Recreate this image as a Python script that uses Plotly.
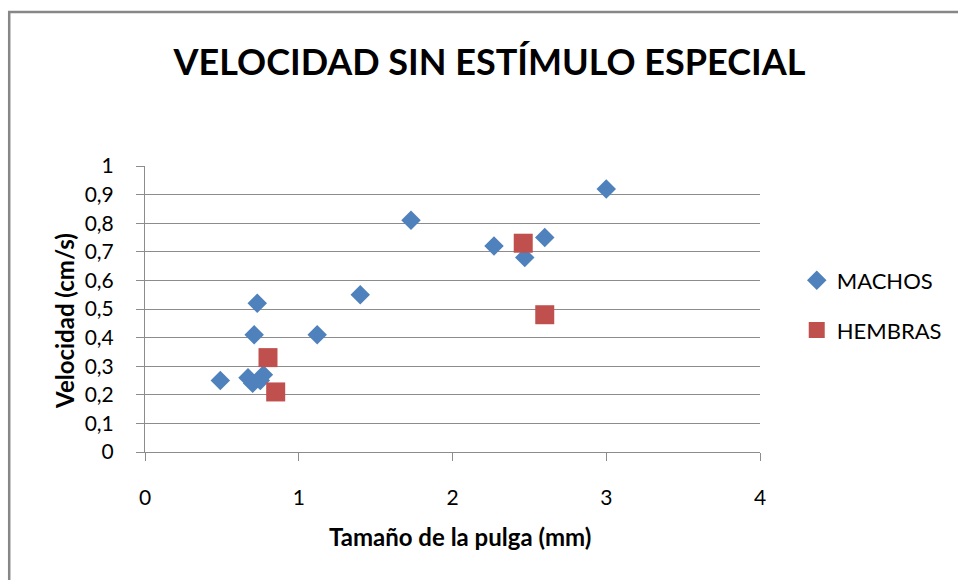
import plotly.graph_objects as go

# Flea size (mm) vs. speed (cm/s) without special stimulus
machos_size = [0.49, 0.67, 0.70, 0.75, 0.77, 0.71, 0.73, 1.12, 1.40, 1.73, 2.27, 2.47, 2.60, 3.00]
machos_speed = [0.25, 0.26, 0.24, 0.25, 0.27, 0.41, 0.52, 0.41, 0.55, 0.81, 0.72, 0.68, 0.75, 0.92]

hembras_size = [0.80, 0.85, 2.46, 2.60]
hembras_speed = [0.33, 0.21, 0.73, 0.48]

x_ticks = [0, 1, 2, 3, 4]
y_ticks = [0, 0.1, 0.2, 0.3, 0.4, 0.5, 0.6, 0.7, 0.8, 0.9, 1]

FONT = "Lato"
BLUE = "#4F81BD"
RED = "#C0504D"
GRID = "#8C8C8C"

fig = go.Figure()
fig.add_trace(go.Scatter(
    x=machos_size, y=machos_speed, mode="markers", name="MACHOS",
    legendgroup="m",
    marker=dict(symbol="diamond", size=15, color=BLUE, line=dict(width=0)),
))
fig.add_trace(go.Scatter(
    x=hembras_size, y=hembras_speed, mode="markers", name="HEMBRAS",
    legendgroup="h",
    marker=dict(symbol="square", size=19, color=RED, line=dict(width=0)),
))

fig.update_layout(
    width=958, height=580,
    margin=dict(l=145, r=197, t=166, b=128),
    paper_bgcolor="white", plot_bgcolor="white",
    separators=",.",
    font=dict(family=FONT, color="#000000"),
    title=dict(
        text="<b>VELOCIDAD SIN ESTÍMULO ESPECIAL</b>",
        font=dict(family=FONT, size=36, color="#000000"),
        x=0.511, xanchor="center", y=0.893, yanchor="middle",
    ),
    showlegend=True,
    legend=dict(
        x=1.058, xanchor="left", y=0.512, yanchor="middle",
        font=dict(family=FONT, size=22, color="#000000"),
        tracegroupgap=18, traceorder="grouped",
        bgcolor="rgba(0,0,0,0)",
    ),
    xaxis=dict(
        range=[0, 4], tickvals=x_ticks, showgrid=False, zeroline=False,
        showline=True, linecolor=GRID, linewidth=1,
        ticks="outside", ticklen=8, tickcolor=GRID,
        tickfont=dict(family=FONT, size=21, color="#000000"),
        ticklabelstandoff=19,
    ),
    yaxis=dict(
        range=[0, 1], tickvals=y_ticks, showgrid=True, gridcolor=GRID, gridwidth=1,
        zeroline=False, showline=True, linecolor=GRID, linewidth=1,
        ticks="outside", ticklen=8, tickcolor=GRID,
        tickfont=dict(family=FONT, size=21, color="#000000"),
        ticklabelstandoff=18,
    ),
    annotations=[
        dict(text="<b>Tamaño de la pulga (mm)</b>", xref="paper", yref="paper",
             x=0.512, y=-0.297, xanchor="center", yanchor="middle", showarrow=False,
             font=dict(family=FONT, size=24, color="#000000")),
        dict(text="<b>Velocidad (cm/s)</b>", xref="paper", yref="paper",
             x=-0.131, y=0.46, xanchor="center", yanchor="middle", showarrow=False,
             textangle=-90, font=dict(family=FONT, size=24, color="#000000")),
    ],
    shapes=[
        # chart frame (top and left edges visible)
        dict(type="rect", xref="paper", yref="paper",
             x0=-0.2208, y0=-0.6, x1=1.5, y1=1.5385,
             line=dict(color="#878787", width=2.5), layer="below"),
    ],
)

fig.write_html("out.html")
